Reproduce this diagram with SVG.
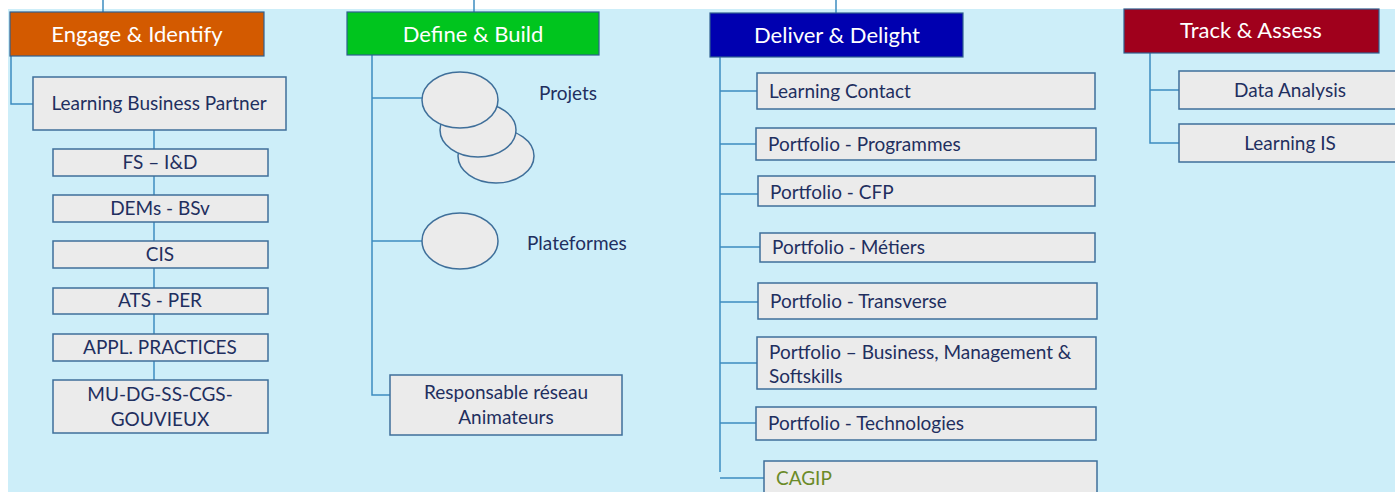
<svg xmlns="http://www.w3.org/2000/svg" width="1395" height="492" viewBox="0 0 1395 492">
<style>
.bg{fill:#CDEEF9}
.hdr{stroke:#2F5F8F;stroke-width:1.2}
.htxt{font-family:Lato,"Liberation Sans",sans-serif;font-size:22px;fill:#FFFFFF;text-anchor:middle}
.box{fill:#EBEBEB;stroke:#3F6F9A;stroke-width:1.5}
.txt{font-family:Lato,"Liberation Sans",sans-serif;font-size:19px;fill:#1F2F5F}
.mid{text-anchor:middle}
.conn{fill:none;stroke:#3C8CC0;stroke-width:1.5}
</style>
<rect x="0" y="0" width="1395" height="492" fill="#FFFFFF"/>
<rect class="bg" x="8" y="9" width="1387" height="483"/>

<g id="connectors">
<path class="conn" d="M103 0V12"/>
<path class="conn" d="M474 0V12"/>
<path class="conn" d="M836 0V13"/>
<path class="conn" d="M11 56V104H33"/>
<path class="conn" d="M154 130V380"/>
<path class="conn" d="M372 55V395H390"/>
<path class="conn" d="M372 98H423"/>
<path class="conn" d="M372 241H423"/>
<path class="conn" d="M720 57V472"/>
<path class="conn" d="M720 91H757M720 144H756M720 194H758M720 247H760M720 302H758M720 363H757M720 423H756M720 478H764"/>
<path class="conn" d="M1150 53V143H1179M1150 90H1179"/>
</g>

<g id="engage">
<rect class="hdr" x="10" y="12" width="254" height="44" fill="#D35A00"/>
<text class="htxt" x="137" y="42">Engage &amp; Identify</text>
</g>
<g id="lbp">
<rect class="box" x="33" y="77" width="253" height="53"/>
<text class="txt mid" x="159" y="110">Learning Business Partner</text>
</g>
<g id="fs">
<rect class="box" x="53" y="149" width="215" height="27"/>
<text class="txt mid" x="160" y="169">FS – I&amp;D</text>
</g>
<g id="dems">
<rect class="box" x="53" y="195" width="215" height="27"/>
<text class="txt mid" x="160" y="215">DEMs - BSv</text>
</g>
<g id="cis">
<rect class="box" x="53" y="241" width="215" height="27"/>
<text class="txt mid" x="160" y="261">CIS</text>
</g>
<g id="ats">
<rect class="box" x="53" y="288" width="215" height="26"/>
<text class="txt mid" x="160" y="307">ATS - PER</text>
</g>
<g id="appl">
<rect class="box" x="53" y="334" width="215" height="27"/>
<text class="txt mid" x="160" y="354">APPL. PRACTICES</text>
</g>
<g id="mu">
<rect class="box" x="53" y="380" width="215" height="53"/>
<text class="txt mid" x="160" y="401">MU-DG-SS-CGS-</text>
<text class="txt mid" x="160" y="426">GOUVIEUX</text>
</g>

<g id="define">
<rect class="hdr" x="347" y="12" width="252" height="43" fill="#00C51E"/>
<text class="htxt" x="473" y="42">Define &amp; Build</text>
</g>
<g id="projets">
<ellipse class="box" cx="496" cy="156" rx="38" ry="27"/>
<ellipse class="box" cx="478" cy="130" rx="38" ry="27"/>
<ellipse class="box" cx="460" cy="100" rx="38" ry="28"/>
<text class="txt" x="539" y="100">Projets</text>
</g>
<g id="plateformes">
<ellipse class="box" cx="460" cy="241" rx="38" ry="28"/>
<text class="txt" x="527" y="250">Plateformes</text>
</g>
<g id="responsable">
<rect class="box" x="390" y="375" width="232" height="60"/>
<text class="txt mid" x="506" y="399">Responsable réseau</text>
<text class="txt mid" x="506" y="424">Animateurs</text>
</g>

<g id="deliver">
<rect class="hdr" x="710" y="13" width="253" height="44" fill="#0000B0"/>
<text class="htxt" x="837" y="43">Deliver &amp; Delight</text>
</g>
<g id="lc">
<rect class="box" x="757" y="73" width="338" height="36"/>
<text class="txt" x="769" y="98">Learning Contact</text>
</g>
<g id="pprog">
<rect class="box" x="756" y="128" width="340" height="32"/>
<text class="txt" x="768" y="151">Portfolio - Programmes</text>
</g>
<g id="pcfp">
<rect class="box" x="758" y="176" width="337" height="30"/>
<text class="txt" x="770" y="199">Portfolio - CFP</text>
</g>
<g id="pmet">
<rect class="box" x="760" y="233" width="335" height="29"/>
<text class="txt" x="772" y="254">Portfolio - Métiers</text>
</g>
<g id="ptrans">
<rect class="box" x="758" y="283" width="339" height="36"/>
<text class="txt" x="770" y="308">Portfolio - Transverse</text>
</g>
<g id="pbus">
<rect class="box" x="757" y="337" width="339" height="52"/>
<text class="txt" x="769" y="359">Portfolio – Business, Management &amp;</text>
<text class="txt" x="769" y="383">Softskills</text>
</g>
<g id="ptech">
<rect class="box" x="756" y="407" width="340" height="33"/>
<text class="txt" x="768" y="430">Portfolio - Technologies</text>
</g>
<g id="cagip">
<rect class="box" x="764" y="461" width="333" height="40"/>
<text class="txt" x="776" y="485" style="fill:#6B8A28">CAGIP</text>
</g>

<g id="track">
<rect class="hdr" x="1124" y="9" width="255" height="44" fill="#A0001C"/>
<text class="htxt" x="1251" y="38">Track &amp; Assess</text>
</g>
<g id="data">
<rect class="box" x="1179" y="71" width="230" height="38"/>
<text class="txt mid" x="1290" y="97">Data Analysis</text>
</g>
<g id="lis">
<rect class="box" x="1179" y="124" width="230" height="38"/>
<text class="txt mid" x="1290" y="150">Learning IS</text>
</g>
</svg>
